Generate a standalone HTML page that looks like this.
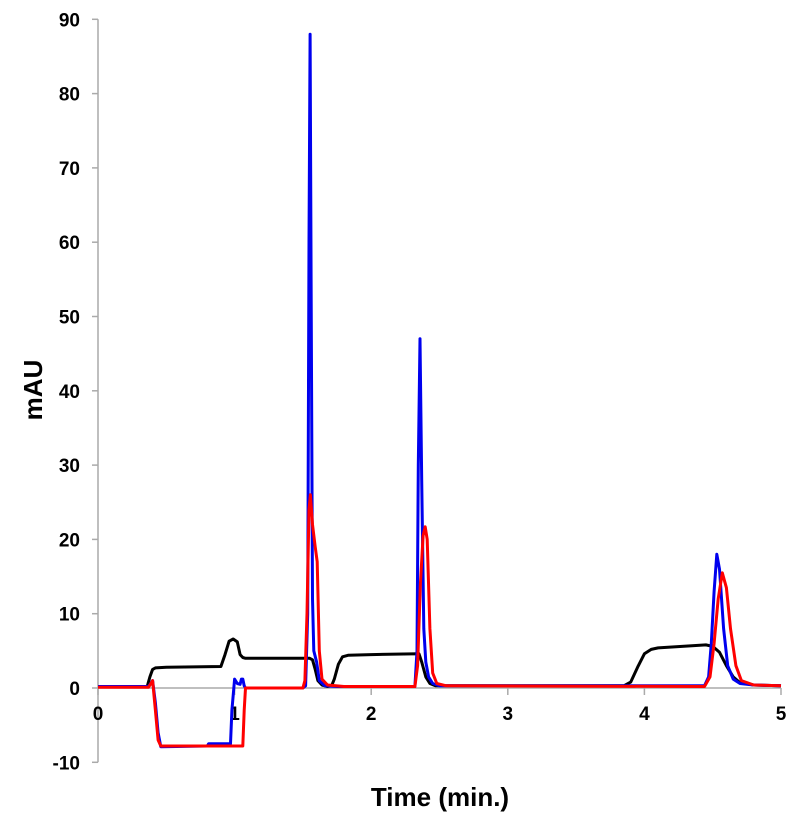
<!DOCTYPE html>
<html><head><meta charset="utf-8"><style>
body{margin:0;background:#fff}
svg text{font-family:"Liberation Sans",Arial,sans-serif;font-weight:bold}
</style></head><body>
<svg id="chart" width="800" height="814" xmlns="http://www.w3.org/2000/svg">
<g id="axes"></g>
<g id="series"></g>
<text transform="translate(42,390) rotate(-90)" text-anchor="middle" font-size="26">mAU</text>
<text x="440" y="806" text-anchor="middle" font-size="26">Time (min.)</text>
</svg>
<script>
const xTicks=[0,1,2,3,4,5];
const yTicks=[-10,0,10,20,30,40,50,60,70,80,90];
const blackT=[0,0.36,0.38,0.4,0.42,0.5,0.9,0.93,0.96,0.99,1.02,1.04,1.06,1.08,1.2,1.55,1.57,1.59,1.61,1.64,1.68,1.71,1.73,1.76,1.79,1.83,2.0,2.35,2.37,2.4,2.43,2.47,2.6,3.85,3.9,3.95,4.0,4.05,4.1,4.45,4.5,4.55,4.6,4.65,4.7,4.8,5];
const blackV=[0.2,0.2,1.5,2.5,2.7,2.8,2.9,4.5,6.3,6.6,6.2,4.5,4.1,4.0,4.0,4.0,3.8,2.5,1.0,0.4,0.2,0.3,1.2,3.2,4.2,4.4,4.5,4.6,3.5,1.5,0.6,0.3,0.3,0.3,0.8,2.8,4.6,5.2,5.4,5.8,5.6,4.8,3.0,1.5,0.7,0.4,0.3];
const blueT=[0,0.37,0.4,0.42,0.44,0.46,0.8,0.81,0.97,0.98,1.0,1.02,1.04,1.05,1.06,1.07,1.08,1.5,1.52,1.535,1.545,1.553,1.56,1.57,1.58,1.6,1.62,1.66,1.75,2.32,2.335,2.345,2.357,2.37,2.385,2.40,2.42,2.45,2.5,4.44,4.47,4.49,4.51,4.53,4.55,4.58,4.61,4.65,4.7,4.8,5];
const blueV=[0.2,0.2,1.0,-2,-6,-7.9,-7.8,-7.5,-7.5,-3,1.2,0.6,0.5,1.2,1.2,0.3,0,0,0.3,10,60,88,55,12,5,3.5,1.0,0.3,0.2,0.2,5,30,47,28,8,3.5,1.5,0.6,0.3,0.3,1.5,6,13,18,16,8,3,1.2,0.6,0.4,0.3];
const redT=[0,0.37,0.4,0.42,0.44,0.46,1.06,1.07,1.08,1.5,1.515,1.53,1.545,1.555,1.57,1.59,1.605,1.62,1.64,1.68,1.8,2.32,2.34,2.36,2.38,2.395,2.41,2.43,2.45,2.48,2.55,4.44,4.48,4.51,4.54,4.57,4.6,4.63,4.67,4.71,4.8,5];
const redV=[0.1,0.1,1.0,-3,-7,-7.8,-7.8,-3,0,0,1,10,24,26,22,19,17,5,1.2,0.4,0.2,0.2,3,14,20.5,21.7,20,8,2,0.6,0.3,0.2,1.5,6,12,15.5,13.5,8,3,1,0.4,0.3];
const X0=98,X1=781,Y0=688,YPER=7.43;
function sx(t){return X0+(X1-X0)*t/5;}
function sy(v){return Y0-v*YPER;}
const NS="http://www.w3.org/2000/svg";
const ax=document.getElementById('axes');
function mk(tag,attrs,parent){const e=document.createElementNS(NS,tag);for(const k in attrs)e.setAttribute(k,attrs[k]);parent.appendChild(e);return e;}
let l=mk('line',{x1:X0,y1:sy(90),x2:X0,y2:sy(-10),stroke:'#aaa','stroke-width':1.5},ax);


l=mk('line',{x1:X0,y1:Y0,x2:X1,y2:Y0,stroke:'#aaa','stroke-width':1.5},ax);


yTicks.forEach(v=>{
 const t=mk('line',{x1:X0-6,y1:sy(v),x2:X0,y2:sy(v),stroke:'#aaa','stroke-width':1.5},ax);
 
 
 const tx=mk('text',{x:80,y:sy(v)+7,'text-anchor':'end','font-size':19},ax);
 
 
 tx.textContent=v;
});
xTicks.forEach(v=>{
 const t=mk('line',{x1:sx(v),y1:Y0,x2:sx(v),y2:Y0+7,stroke:'#aaa','stroke-width':1.5},ax);
 
 
 const tx=mk('text',{x:sx(v),y:Y0+32,'text-anchor':'middle','font-size':19},ax);
 
 
 tx.textContent=v;
});
const sg=document.getElementById('series');
function draw(T,V,color,name){
 const pts=T.map((t,i)=>sx(t).toFixed(1)+','+sy(V[i]).toFixed(1)).join(' ');
 const p=mk('polyline',{points:pts,fill:'none',stroke:color,'stroke-width':3,'stroke-linejoin':'round'},sg);
 
 
}
draw(blackT,blackV,'#000','series-black');
draw(blueT,blueV,'#0000ee','series-blue');
draw(redT,redV,'#ff0000','series-red');
</script>
</body></html>
